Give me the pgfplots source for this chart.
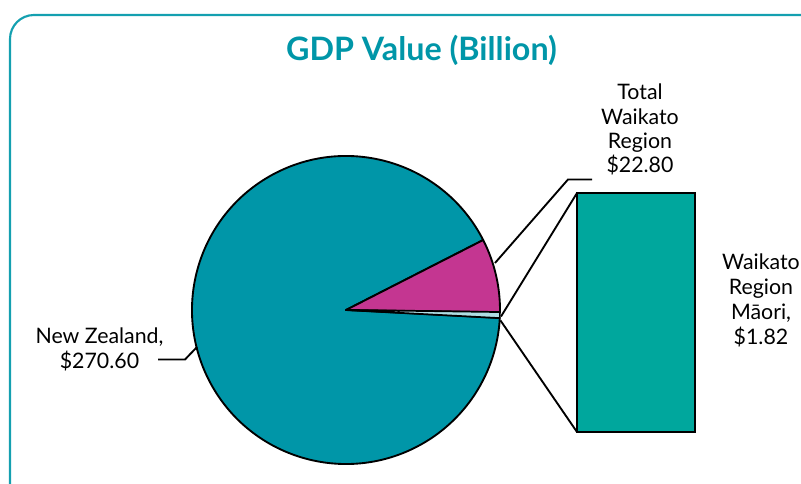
\documentclass[border=0pt]{standalone}
\usepackage{fontspec}
\setmainfont{Lato}
\usepackage{pgfplots}
\usepackage{pgfplotstable}
\pgfplotsset{compat=1.18}
\definecolor{pieteal}{RGB}{0,150,168}
\definecolor{piepink}{RGB}{196,54,145}
\definecolor{piegrey}{RGB}{176,222,228}
\definecolor{barteal}{RGB}{0,167,157}
\definecolor{titleteal}{RGB}{0,150,168}
\definecolor{frameteal}{RGB}{20,160,176}

\pgfplotstableread{
region value
NZ 270.60
Waikato 22.80
Maori 1.82
}\gdpdata

\newcommand\lbl[3]{\node[anchor=base, inner sep=0pt, font=\fontsize{16}{19}\selectfont] at (axis cs:#1,#2) {#3};}

\begin{document}
\begin{tikzpicture}
\pgfplotstablegetelem{0}{value}\of\gdpdata \pgfmathsetmacro\vNZ{\pgfplotsretval}
\pgfplotstablegetelem{1}{value}\of\gdpdata \pgfmathsetmacro\vWK{\pgfplotsretval}
\pgfplotstablegetelem{2}{value}\of\gdpdata \pgfmathsetmacro\vMA{\pgfplotsretval}
\pgfmathsetmacro\total{\vNZ+\vWK+\vMA}
\pgfmathsetmacro\gStart{-3.0}
\pgfmathsetmacro\gEnd{\gStart+360*\vMA/\total}
\pgfmathsetmacro\pEnd{\gEnd+360*\vWK/\total}
\pgfmathsetmacro\nEnd{\gStart+360}
\def\R{115.5pt}
\begin{axis}[at={(0,0)}, anchor=south west,
  width=600.75pt, height=363pt, scale only axis,
  xmin=0, xmax=801, ymin=0, ymax=484, y dir=reverse,
  hide axis, clip=false]
% frame
\draw[frameteal, line width=1.6pt] (axis cs:10,490) -- (axis cs:10,39) arc[start angle=180, end angle=90, radius=18pt] -- (axis cs:810,15);
% title
\node[anchor=base, inner sep=0pt, text=titleteal, font=\fontsize{24.2}{28}\selectfont\bfseries] at (axis cs:421.5,61) {GDP Value (Billion)};
% pie slices
\filldraw[fill=pieteal, draw=black, line width=1.4pt, line join=round] (axis cs:346,310) -- ++(\pEnd:\R) arc[start angle=\pEnd, end angle=\nEnd, radius=\R] -- cycle;
\filldraw[fill=piepink, draw=black, line width=1.4pt, line join=round] (axis cs:346,310) -- ++(\gEnd:\R) arc[start angle=\gEnd, end angle=\pEnd, radius=\R] -- cycle;
\filldraw[fill=piegrey, draw=black, line width=1.2pt, line join=round] (axis cs:346,310) -- ++(\gStart:\R) arc[start angle=\gStart, end angle=\gEnd, radius=\R] -- cycle;
% bar of Maori share
\addplot[fill=barteal, draw=black, line width=1.6pt, line join=miter] coordinates {(577,193) (695,193) (695,432) (577,432)} -- cycle;
% series lines
\draw[black, line width=1.4pt] (axis cs:501,316.5) -- (axis cs:577,193);
\draw[black, line width=1.4pt] (axis cs:500.5,320.5) -- (axis cs:577,432);
% leader lines
\draw[black, line width=1.4pt] (axis cs:495,263) -- (axis cs:568,179.5) -- (axis cs:592,179.5);
\draw[black, line width=1.4pt] (axis cs:158,359.5) -- (axis cs:185,359.5) -- (axis cs:197,347);
% labels
\lbl{640}{100}{Total}
\lbl{640}{124.5}{Waikato}
\lbl{640}{149}{Region}
\lbl{640}{173}{\$22.80}
\lbl{99.5}{343.3}{New Zealand,}
\lbl{99.5}{368.3}{\$270.60}
\lbl{761}{270}{Waikato}
\lbl{761}{295}{Region}
\lbl{761}{320}{Māori,}
\lbl{761}{345}{\$1.82}
\end{axis}
\pgfresetboundingbox
\path[use as bounding box] (current axis.south west) rectangle (current axis.north east);
\end{tikzpicture}
\end{document}
